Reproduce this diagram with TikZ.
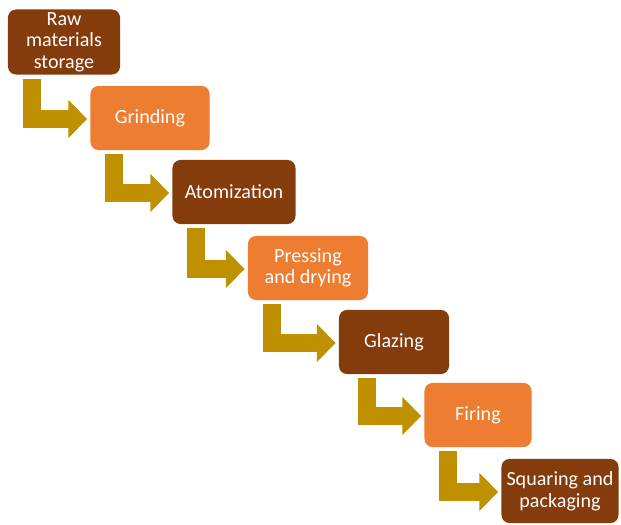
\documentclass[tikz,border=0pt]{standalone}
\usepackage{fontspec}
\setmainfont{Carlito}
\usetikzlibrary{arrows.meta,calc}
\definecolor{brownbox}{HTML}{843C0C}
\definecolor{orangebox}{HTML}{ED7D31}
\definecolor{goldarrow}{HTML}{BF9000}

\begin{document}
\begin{tikzpicture}[x=0.025cm,y=-0.025cm,
	stage/.style={rounded corners=0.2cm,minimum height=1.6cm,minimum width=2.9cm,
		align=center,text=white,font=\fontsize{14.3}{15.3}\selectfont,inner sep=2pt},
	darkstage/.style={stage,fill=brownbox},
	lightstage/.style={stage,fill=orangebox},
	flow/.style={draw=goldarrow,line width=0.44cm,line join=miter,
		-{Triangle[width=0.92cm,length=0.47cm]}}]
	\useasboundingbox (0,0) rectangle (621,525);
	\node[darkstage,minimum width=2.8cm] (raw) at (64,42) {Raw\\materials\\storage};
	\node[lightstage,minimum width=2.975cm] (grind) at (150,118) {Grinding};
	\node[darkstage,minimum width=3.075cm] (atom) at (234,192) {Atomization};
	\node[lightstage,minimum width=3.0cm] (press) at (308,268) {Pressing\\and drying};
	\node[darkstage,minimum width=2.75cm] (glaze) at (394,342) {Glazing};
	\node[lightstage,minimum width=2.675cm] (fire) at (478,415) {Firing};
	\node[darkstage,minimum width=2.925cm] (square) at (560,491) {Squaring and\\packaging};
	% elbow arrows between the stages
	\draw[flow] ($(raw.south west)+(24,4)$) |- ($(grind.west)+(-3,1)$);
	\draw[flow] ($(grind.south west)+(24,4)$) |- ($(atom.west)+(-3,1)$);
	\draw[flow] ($(atom.south west)+(24,4)$) |- ($(press.west)+(-3,1)$);
	\draw[flow] ($(press.south west)+(24,4)$) |- ($(glaze.west)+(-3,1)$);
	\draw[flow] ($(glaze.south west)+(28,4)$) |- ($(fire.west)+(-3,1)$);
	\draw[flow] ($(fire.south west)+(24,4)$) |- ($(square.west)+(-3,1)$);
\end{tikzpicture}
\end{document}
